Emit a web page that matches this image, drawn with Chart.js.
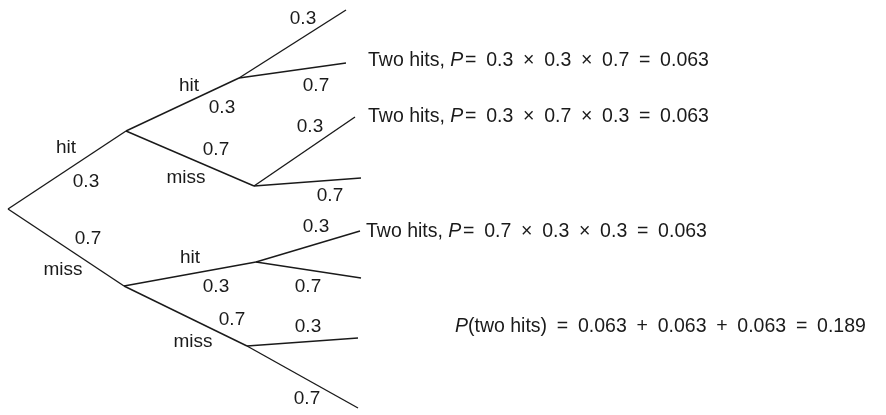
<!DOCTYPE html>
<html>
<head>
<meta charset="utf-8">
<script src="https://cdn.jsdelivr.net/npm/chart.js@4.4.1/dist/chart.umd.min.js"></script>
<style>
    html, body { margin: 0; padding: 0; background: #fff; }
    canvas { display: block; }
</style>
</head>
<body>
<canvas id="treeChart" width="886" height="415"></canvas>
<script>
// --- DATA ---
// node positions of the tree (diagram units, y grows downward)
const nodeX = [8, 126, 124, 239, 254, 256, 247, 346, 346, 355, 361, 360, 361, 358, 358];
const nodeY = [209, 131, 286, 78, 186, 262, 346, 10, 63, 117, 178, 231, 278, 338, 408];
// branches as [from, to]
const branches = [[0, 1], [0, 2], [1, 3], [1, 4], [2, 5], [2, 6],
                  [3, 7], [3, 8], [4, 9], [4, 10], [5, 11], [5, 12], [6, 13], [6, 14]];

// branch labels and where they sit
const labelText = ['hit', '0.3', '0.7', 'miss',
                   'hit', '0.3', '0.7', 'miss',
                   'hit', '0.3', '0.7', 'miss',
                   '0.3', '0.7', '0.3', '0.7', '0.3', '0.7', '0.3', '0.7'];
const labelX = [66, 86, 88, 63,
                189, 222, 216, 186,
                190, 216, 232, 193,
                303, 316, 310, 330, 316, 308, 308, 307];
const labelY = [148, 182, 239, 270,
                86, 108, 150, 178,
                258, 287, 320, 342,
                19, 86, 127, 196, 227, 287, 327, 399];

// outcome notes: [plain, italic, plain]  (en spaces mimic the math spacing)
const outcomeRuns = [
    ['Two hits, ', 'P', '\u200a=\u20020.3\u2002\u00d7\u20020.3\u2002\u00d7\u20020.7\u2002=\u20020.063'],
    ['Two hits, ', 'P', '\u200a=\u20020.3\u2002\u00d7\u20020.7\u2002\u00d7\u20020.3\u2002=\u20020.063'],
    ['Two hits, ', 'P', '\u200a=\u20020.7\u2002\u00d7\u20020.3\u2002\u00d7\u20020.3\u2002=\u20020.063'],
    ['', 'P', '(two hits)\u2002=\u20020.063\u2002+\u20020.063\u2002+\u20020.063\u2002=\u20020.189']
];
const outcomeX = [368, 368, 366, 455];
const outcomeY = [61, 117, 232, 327];

// --- STYLE ---
const INK = '#1a1a1a';
const FONT_SIZE = 19;
const NOTE_SIZE = 19.5;
const FAMILY = '"Liberation Sans", Arial, Helvetica, sans-serif';

// --- TEXT PLUGIN ---
const treeText = {
    id: 'treeText',
    afterDatasetsDraw(chart) {
        const ctx = chart.ctx;
        const sx = chart.scales.x, sy = chart.scales.y;
        ctx.save();
        ctx.fillStyle = INK;
        ctx.textBaseline = 'middle';

        // branch labels
        ctx.font = FONT_SIZE + 'px ' + FAMILY;
        ctx.textAlign = 'center';
        labelText.forEach((t, i) => {
            ctx.fillText(t, sx.getPixelForValue(labelX[i]), sy.getPixelForValue(labelY[i]));
        });

        // outcome notes
        ctx.textAlign = 'left';
        outcomeRuns.forEach((runs, i) => {
            let x = sx.getPixelForValue(outcomeX[i]);
            const y = sy.getPixelForValue(outcomeY[i]);
            runs.forEach((r, k) => {
                ctx.font = (k === 1 ? 'italic ' : '') + NOTE_SIZE + 'px ' + FAMILY;
                ctx.fillText(r, x, y);
                x += ctx.measureText(r).width;
            });
        });
        ctx.restore();
    }
};

// --- CHART ---
const datasets = branches.map(([a, b]) => ({
    data: [{ x: nodeX[a], y: nodeY[a] }, { x: nodeX[b], y: nodeY[b] }],
    showLine: true,
    borderColor: INK,
    borderWidth: 1.4,
    pointRadius: 0,
    pointHoverRadius: 0,
    clip: false
}));

new Chart(document.getElementById('treeChart'), {
    type: 'scatter',
    data: { datasets: datasets },
    options: {
        responsive: false,
        animation: false,
        layout: { padding: 0 },
        plugins: { legend: { display: false }, tooltip: { enabled: false } },
        scales: {
            x: { type: 'linear', min: 0, max: 886, display: false },
            y: { type: 'linear', min: 0, max: 415, reverse: true, display: false }
        }
    },
    plugins: [treeText]
});
</script>
</body>
</html>
